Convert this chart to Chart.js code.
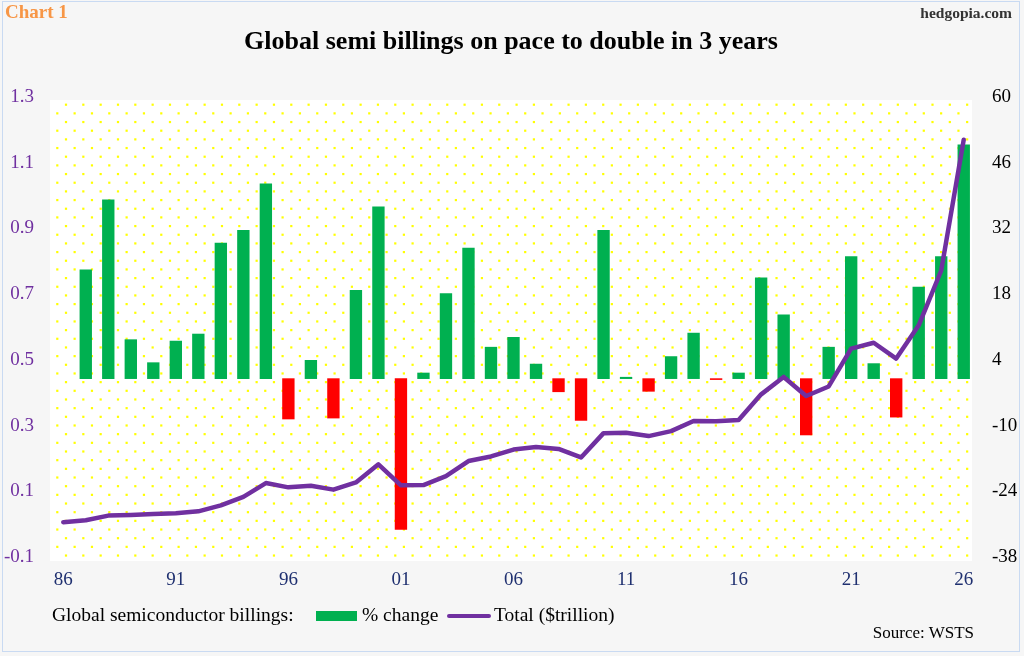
<!DOCTYPE html>
<html>
<head>
<meta charset="utf-8">
<script src="https://cdn.jsdelivr.net/npm/chart.js@4.4.1/dist/chart.umd.min.js"></script>
<style>
  html, body { margin: 0; padding: 0; }
  body {
    width: 1024px; height: 656px; position: relative; overflow: hidden;
    background: #f6f6f6;
    font-family: "Liberation Serif", "Times New Roman", serif;
  }
  #frame {
    position: absolute; left: 2px; top: 1px; width: 1018px; height: 651px;
    border: 1px solid #c9daf2; box-sizing: border-box;
  }
  #chart { position: absolute; left: 0; top: 0; }
  .txt { position: absolute; line-height: 1; white-space: nowrap; }
</style>
</head>
<body>
<div id="frame"></div>
<canvas id="chart" width="1024" height="656"></canvas>

<div class="txt" style="left:5px; top:2px; font-size:19px; font-weight:bold; color:#f79646;">Chart 1</div>
<div class="txt" style="right:12px; top:5px; font-size:15.5px; font-weight:bold; color:#333;">hedgopia.com</div>
<div class="txt" id="title" style="left:0; width:1022px; text-align:center; top:28px; font-size:26px; font-weight:bold; color:#000;">Global semi billings on pace to double in 3 years</div>

<div class="txt" style="left:52px; top:605px; font-size:19.5px; color:#000;">Global semiconductor billings:</div>
<div style="position:absolute; left:316px; top:611px; width:41px; height:10px; background:#00b050;"></div>
<div class="txt" style="left:362px; top:605px; font-size:19.5px; color:#000;">% change</div>
<div style="position:absolute; left:447px; top:614px; width:44px; height:4px; background:#7030a0; border-radius:2px;"></div>
<div class="txt" style="left:494px; top:605px; font-size:19.5px; color:#000;">Total ($trillion)</div>
<div class="txt" style="right:50px; top:624px; font-size:17px; color:#000;">Source: WSTS</div>

<script>
const years = [1986, 1987, 1988, 1989, 1990, 1991, 1992, 1993, 1994, 1995,
  1996, 1997, 1998, 1999, 2000, 2001, 2002, 2003, 2004, 2005,
  2006, 2007, 2008, 2009, 2010, 2011, 2012, 2013, 2014, 2015,
  2016, 2017, 2018, 2019, 2020, 2021, 2022, 2023, 2024, 2025, 2026];

// % change, right axis (no bar for 1986)
const pctChange = [null, 23.2, 38.1, 8.3, 3.4, 8.0, 9.5, 28.9, 31.6, 41.5,
  -8.6, 3.9, -8.4, 18.8, 36.6, -32.1, 1.2, 18.1, 27.8, 6.7,
  8.8, 3.1, -2.8, -8.9, 31.6, 0.3, -2.7, 4.7, 9.7, -0.2,
  1.2, 21.5, 13.6, -12.0, 6.7, 26.0, 3.2, -8.2, 19.5, 26.0, 49.8];

// total billings in $trillion, left axis
const totalTrillion = [0.006, 0.012, 0.026, 0.028, 0.031, 0.033, 0.039, 0.057, 0.083, 0.125,
  0.112, 0.117, 0.105, 0.127, 0.182, 0.118, 0.119, 0.146, 0.192, 0.206,
  0.227, 0.235, 0.229, 0.203, 0.277, 0.278, 0.268, 0.283, 0.314, 0.313,
  0.317, 0.395, 0.448, 0.390, 0.419, 0.534, 0.552, 0.504, 0.605, 0.772, 1.170];

const leftTicks = [-0.1, 0.1, 0.3, 0.5, 0.7, 0.9, 1.1, 1.3];
const rightTicks = [-38, -24, -10, 4, 18, 32, 46, 60];

const GREEN = '#00b050';
const RED = '#ff0000';
const PURPLE = '#7030a0';

// white panel with staggered yellow dots behind the plot
const dottedPanel = {
  id: 'dottedPanel',
  beforeDraw(chart) {
    const { ctx, chartArea: a } = chart;
    const left = a.left - 2, right = a.right - 3;
    const top = a.top + 3, bottom = a.bottom + 4;
    ctx.save();
    ctx.fillStyle = '#ffffff';
    ctx.fillRect(left, top, right - left, bottom - top);
    ctx.fillStyle = '#ffff00';
    const dx = 17.33, dy = 8.67;
    let row = 0;
    for (let y = top + 4.7; y < bottom; y += dy, row++) {
      const start = left + (row % 2 === 0 ? 16 : 7.3);
      for (let x = start; x < right; x += dx) {
        ctx.fillRect(x - 1.1, y - 1.1, 2.2, 2.2);
      }
    }
    ctx.restore();
  }
};

const tickFont = { family: '"Liberation Serif", "Times New Roman", serif', size: 19 };

new Chart(document.getElementById('chart'), {
  type: 'bar',
  data: {
    labels: years.map(String),
    datasets: [
      {
        type: 'line',
        label: 'Total ($trillion)',
        data: totalTrillion,
        yAxisID: 'y',
        borderColor: PURPLE,
        borderWidth: 4.5,
        pointRadius: 0,
        tension: 0,
        borderJoinStyle: 'round',
        borderCapStyle: 'round',
        order: 1
      },
      {
        type: 'bar',
        label: '% change',
        data: pctChange,
        yAxisID: 'y1',
        backgroundColor: pctChange.map(v => (v !== null && v < 0) ? RED : GREEN),
        barThickness: 11.7,
        order: 2
      }
    ]
  },
  options: {
    responsive: false,
    animation: false,
    layout: { padding: { top: 97, left: 0, right: 0, bottom: 0 } },
    plugins: {
      legend: { display: false },
      tooltip: { enabled: false },
      title: { display: false }
    },
    scales: {
      x: {
        type: 'category',
        offset: true,
        grid: { display: false, drawTicks: false },
        border: { display: false },
        afterFit: s => { s.height = 99; },
        ticks: {
          autoSkip: false,
          maxRotation: 0,
          minRotation: 0,
          padding: 12,
          color: '#1f3070',
          font: tickFont,
          callback: (v, i) => (years[i] - 1986) % 5 === 0 ? String(years[i]).slice(2) : ''
        }
      },
      y: {
        position: 'left',
        min: -0.1,
        max: 1.3,
        grid: { display: false, drawTicks: false },
        border: { display: false },
        afterFit: s => { s.width = 52; },
        afterBuildTicks: s => { s.ticks = leftTicks.map(v => ({ value: v })); },
        ticks: {
          padding: 18,
          color: PURPLE,
          font: tickFont,
          callback: v => v.toFixed(1)
        }
      },
      y1: {
        position: 'right',
        min: -38,
        max: 60,
        grid: { display: false, drawTicks: false },
        border: { display: false },
        afterFit: s => { s.width = 49; },
        afterBuildTicks: s => { s.ticks = rightTicks.map(v => ({ value: v })); },
        ticks: {
          padding: 17,
          color: '#000',
          font: tickFont,
          callback: v => String(v)
        }
      }
    }
  },
  plugins: [dottedPanel]
});
</script>
</body>
</html>
